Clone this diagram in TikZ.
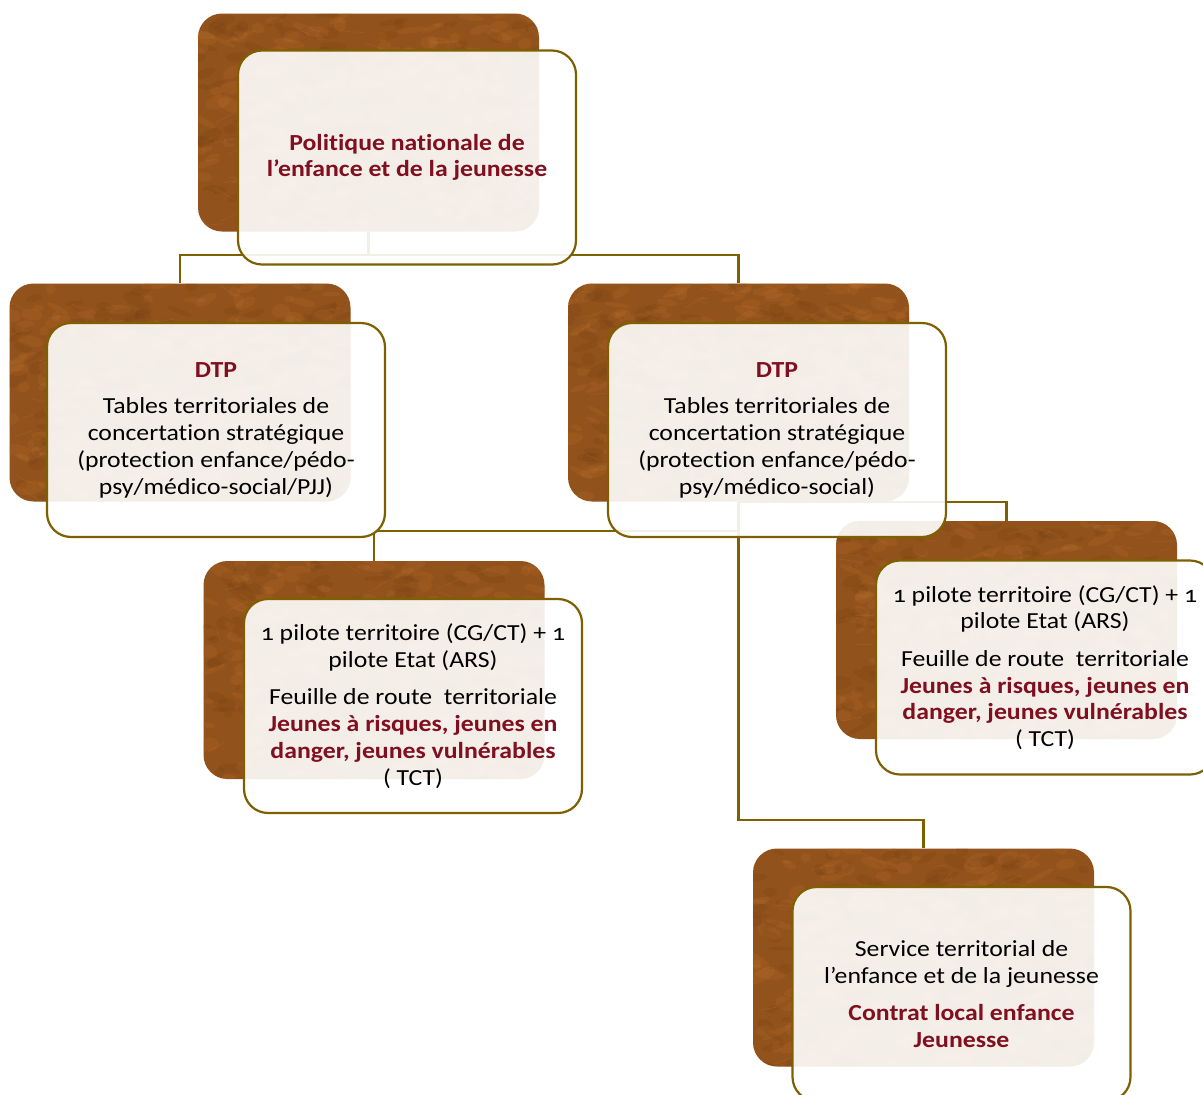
\documentclass[tikz,border=0pt]{standalone}
\usepackage{fontspec}
\setmainfont{Carlito}[Numbers=OldStyle,FakeStretch=1.12,Ligatures=NoCommon]
\definecolor{gold}{RGB}{127,96,0}
\definecolor{wood}{RGB}{146,82,27}
\definecolor{woodlight}{RGB}{190,115,48}
\definecolor{wooddark}{RGB}{100,54,16}
\definecolor{dred}{RGB}{128,16,32}
\newcommand\hl[1]{\textcolor{dred}{\bfseries #1}}
\newcommand\woodtexture[1]{%
  \begin{scope}
    \clip[rounded corners=24pt] (#1.south west) rectangle (#1.north east);
    \foreach \i in {1,...,170}{%
      \pgfmathsetmacro{\rx}{rnd*341}%
      \pgfmathsetmacro{\ry}{rnd*218}%
      \pgfmathsetmacro{\ra}{4+rnd*12}%
      \pgfmathsetmacro{\rb}{2+rnd*5}%
      \pgfmathsetmacro{\ang}{rnd*60-30}%
      \fill[shift={(#1.south west)},woodlight,opacity=0.2,rotate around={\ang:(\rx,\ry)}] (\rx,\ry) ellipse [x radius=\ra, y radius=\rb];
    }
    \foreach \i in {1,...,140}{%
      \pgfmathsetmacro{\rx}{rnd*341}%
      \pgfmathsetmacro{\ry}{rnd*218}%
      \pgfmathsetmacro{\ra}{4+rnd*12}%
      \pgfmathsetmacro{\rb}{2+rnd*5}%
      \pgfmathsetmacro{\ang}{rnd*60-30}%
      \fill[shift={(#1.south west)},wooddark,opacity=0.14,rotate around={\ang:(\rx,\ry)}] (\rx,\ry) ellipse [x radius=\ra, y radius=\rb];
    }
    \foreach \i in {1,...,60}{%
      \pgfmathsetmacro{\rx}{rnd*341}%
      \pgfmathsetmacro{\ry}{rnd*218}%
      \pgfmathsetmacro{\ang}{rnd*70-35}%
      \pgfmathsetmacro{\len}{6+rnd*20}%
      \draw[shift={(#1.south west)},woodlight,opacity=0.25,line width=0.8pt] (\rx,\ry) -- ++(\ang:\len);
    }
  \end{scope}}
\tikzset{
  backbox/.style={draw=none, fill=wood, rounded corners=24pt, minimum width=341pt, minimum height=218pt, inner sep=0pt},
  frontbox/.style={draw=gold, line width=2.2pt, fill=white, fill opacity=0.9, text opacity=1, rounded corners=24pt,
    minimum width=338pt, minimum height=214pt, align=center, inner sep=0pt,
    font=\fontsize{23}{26.7}\selectfont, text=black},
  link/.style={draw=gold, line width=2.2pt},
}
\begin{document}
\begin{tikzpicture}[x=1pt,y=1pt]
\pgfmathsetseed{4711}
\useasboundingbox (0,0) rectangle (1203,-1095);
\clip (0,0) rectangle (1203,-1095);
\fill[white] (0,0) rectangle (1203,-1095);
% back (wood) boxes
\node[backbox] (b1) at (368.5,-122.5) {};
\node[backbox] (b2) at (180,-392.5) {};
\node[backbox] (b3) at (738.5,-392.5) {};
\node[backbox] (b4) at (374,-670) {};
\node[backbox] (b5) at (1006.5,-630) {};
\node[backbox] (b6) at (923.5,-957.5) {};
\woodtexture{b1}\woodtexture{b2}\woodtexture{b3}\woodtexture{b4}\woodtexture{b5}\woodtexture{b6}
% connectors
\coordinate (j1) at (368.5,-255);
\coordinate (j4) at (738.5,-531);
\coordinate (j6) at (738.5,-820);
\draw[link] (b1.south) -- (j1) -| (b2.north);
\draw[link] (j1) -| (b3.north);
\draw[link] (b3.south) -- (j4) -| (b4.north);
\draw[link] (b3.south) -| (b5.north);
\draw[link] (b3.south) -- (j6) -| (b6.north);
% front boxes
\node[frontbox] (f1) at (407,-157.5) {\hl{Politique nationale de}\\\hl{l’enfance et de la jeunesse}};
\node[frontbox] (f2) at (216,-430) {\hl{DTP}\\[10pt]Tables territoriales de\\concertation stratégique\\(protection enfance/pédo-\\psy/médico-social/PJJ)};
\node[frontbox] (f3) at (777,-430) {\hl{DTP}\\[10pt]Tables territoriales de\\concertation stratégique\\(protection enfance/pédo-\\psy/médico-social)};
\node[frontbox] (f4) at (413,-706) {1 pilote territoire (CG/CT) + 1\\pilote Etat (ARS)\\[11pt]Feuille de route~ territoriale\\\hl{Jeunes à risques, jeunes en}\\\hl{danger, jeunes vulnérables}\\( TCT)};
\node[frontbox] (f5) at (1045,-667.5) {1 pilote territoire (CG/CT) + 1\\pilote Etat (ARS)\\[11pt]Feuille de route~ territoriale\\\hl{Jeunes à risques, jeunes en}\\\hl{danger, jeunes vulnérables}\\( TCT)};
\node[frontbox] (f6) at (961.5,-994) {Service territorial de\\l’enfance et de la jeunesse\\[11pt]\hl{Contrat local enfance}\\\hl{Jeunesse}};
\end{tikzpicture}
\end{document}
